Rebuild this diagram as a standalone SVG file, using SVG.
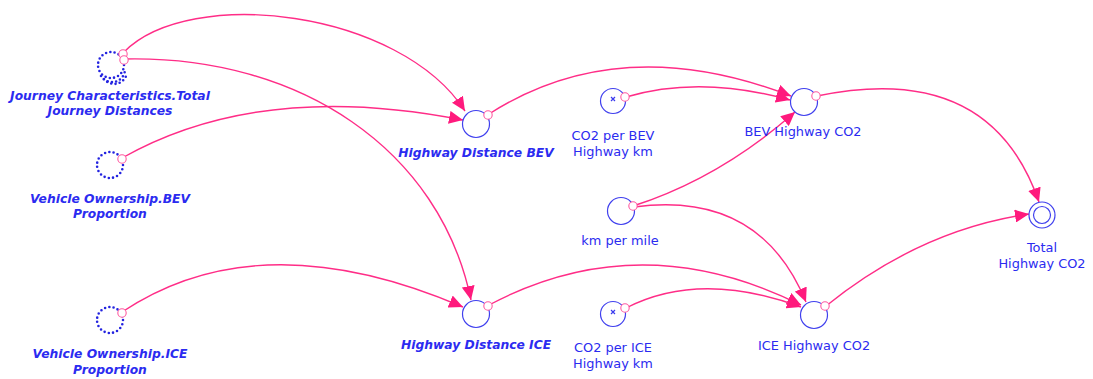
<svg xmlns="http://www.w3.org/2000/svg" width="1093" height="379" viewBox="0 0 1093 379">
<style>
.n{fill:#fff;stroke:#4040ee;stroke-width:1.2}
.d{fill:none;stroke:#2323e0;stroke-width:2.6;stroke-linecap:round;stroke-dasharray:0 4.3}
.c{fill:none;stroke:#ff2d87;stroke-width:1.4}
.s{fill:#fff;stroke:#ff5aa0;stroke-width:1.1}
.t{font-family:"DejaVu Sans",Verdana,sans-serif;font-size:12.9px;fill:#2b2bf0;text-anchor:middle}
.b{font-weight:bold;font-style:italic;font-size:12.3px}
.x{stroke:#3a3aee;stroke-width:1.2}
</style>
<defs>
<marker id="a" markerUnits="userSpaceOnUse" markerWidth="15" markerHeight="13" refX="14" refY="6.5" orient="auto">
<path d="M0,0 L14,6.5 L0,13 z" fill="#ff1a7d"/>
</marker>
</defs>
<g id="connectors">
<path class="c" d="M124 52 C190 -15 400 10 465 111" marker-end="url(#a)"/>
<path class="c" d="M124 59 C300 55 440 150 471 300" marker-end="url(#a)"/>
<path class="c" d="M122 158 Q260 80 463 120" marker-end="url(#a)"/>
<path class="c" d="M122 312 Q260 220 463 307" marker-end="url(#a)"/>
<path class="c" d="M489 114 Q620 30 791 96" marker-end="url(#a)"/>
<path class="c" d="M626 97 Q700 75 790 100" marker-end="url(#a)"/>
<path class="c" d="M633 206 Q720 178 795 112" marker-end="url(#a)"/>
<path class="c" d="M634 207 Q760 190 806 302" marker-end="url(#a)"/>
<path class="c" d="M489 305 Q640 225 801 305" marker-end="url(#a)"/>
<path class="c" d="M626 308 Q700 270 801 307" marker-end="url(#a)"/>
<path class="c" d="M817 96 Q990 60 1039 202" marker-end="url(#a)"/>
<path class="c" d="M826 306 Q920 230 1029 214" marker-end="url(#a)"/>
</g>
<g id="journey">
<circle class="d" cx="111" cy="65" r="13"/>
<path class="d" d="M101 76 A13 13 0 0 0 125 70"/>
<path class="d" d="M104 79 A13 13 0 0 0 127 73"/>
<circle class="s" cx="123" cy="54" r="4.2"/>
<circle class="s" cx="124" cy="60" r="4.2"/>
<text class="t b" x="110" y="100">Journey Characteristics.Total</text>
<text class="t b" x="110" y="115">Journey Distances</text>
</g>
<g id="bev-proportion">
<circle class="d" cx="110" cy="165" r="13"/>
<circle class="s" cx="122" cy="159" r="4.2"/>
<text class="t b" x="110" y="203">Vehicle Ownership.BEV</text>
<text class="t b" x="110" y="218">Proportion</text>
</g>
<g id="ice-proportion">
<circle class="d" cx="110" cy="320" r="13"/>
<circle class="s" cx="122" cy="313" r="4.2"/>
<text class="t b" x="110" y="358">Vehicle Ownership.ICE</text>
<text class="t b" x="110" y="374">Proportion</text>
</g>
<g id="hd-bev">
<circle class="n" cx="476" cy="124" r="13.5"/>
<circle class="s" cx="488" cy="115" r="4.2"/>
<text class="t b" x="476" y="157">Highway Distance BEV</text>
</g>
<g id="hd-ice">
<circle class="n" cx="476" cy="314" r="13.5"/>
<circle class="s" cx="488" cy="306" r="4.2"/>
<text class="t b" x="476" y="349">Highway Distance ICE</text>
</g>
<g id="co2-bev">
<circle class="n" cx="613" cy="101" r="12.5"/>
<path class="x" d="M611 97 L615 101 M615 97 L611 101"/>
<circle class="s" cx="625" cy="97" r="4.2"/>
<text class="t" x="613" y="140">CO2 per BEV</text>
<text class="t" x="613" y="156">Highway km</text>
</g>
<g id="bev-co2">
<circle class="n" cx="804" cy="102" r="13.5"/>
<circle class="s" cx="816" cy="96" r="4.2"/>
<text class="t" x="803" y="136">BEV Highway CO2</text>
</g>
<g id="km-per-mile">
<circle class="n" cx="621" cy="211" r="13.5"/>
<circle class="s" cx="633" cy="206" r="4.2"/>
<text class="t" x="620" y="245">km per mile</text>
</g>
<g id="co2-ice">
<circle class="n" cx="613" cy="314" r="12.5"/>
<path class="x" d="M611 310 L615 314 M615 310 L611 314"/>
<circle class="s" cx="625" cy="308" r="4.2"/>
<text class="t" x="613" y="352">CO2 per ICE</text>
<text class="t" x="613" y="368">Highway km</text>
</g>
<g id="ice-co2">
<circle class="n" cx="814" cy="315" r="13.5"/>
<circle class="s" cx="825" cy="306" r="4.2"/>
<text class="t" x="814" y="350">ICE Highway CO2</text>
</g>
<g id="total">
<circle class="n" cx="1042" cy="215" r="13"/>
<circle class="n" cx="1042" cy="215" r="8.5"/>
<text class="t" x="1042" y="252">Total</text>
<text class="t" x="1042" y="268">Highway CO2</text>
</g>
</svg>
